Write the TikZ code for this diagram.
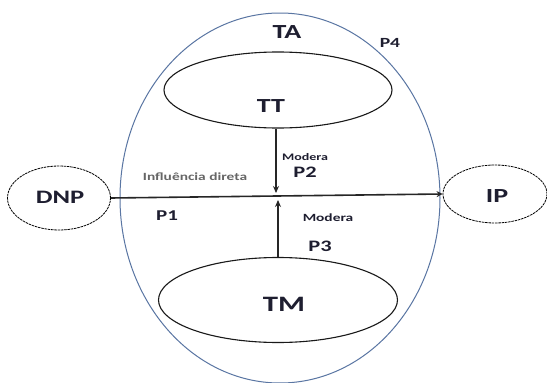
\documentclass[tikz,border=0pt]{standalone}
\usepackage{fontspec}
\setmainfont{Carlito}
\usetikzlibrary{shapes.geometric,arrows.meta}
\definecolor{outerblue}{HTML}{5A76A3}
\definecolor{txt}{HTML}{1E1E30}
\newcommand{\wdtxt}[1]{\scalebox{1.4}[1]{#1}}
\tikzset{
  lbl/.style={font=\bfseries\fontsize{#1}{#1}\selectfont, text=txt, inner sep=0pt},
  inner/.style={draw=black!90, line width=1.1pt, ellipse, inner sep=0pt},
  outer/.style={draw=black, line width=0.8pt, dash pattern=on 2.5pt off 0.8pt, ellipse, inner sep=0pt},
  conn/.style={draw=black!85, line width=1.2pt, -{Stealth[length=7pt,width=6pt]}}
}
\begin{document}
\begin{tikzpicture}[x=1pt,y=-1pt]
\useasboundingbox (0,0) rectangle (547,383);
\fill[white] (0,0) rectangle (547,383);
% outer TA ellipse
\node[draw=outerblue, line width=1pt, ellipse, minimum width=320, minimum height=370, inner sep=0pt] (TA) at (280,198) {};
\node[inner, minimum width=228, minimum height=76] (TT) at (278,90) {};
\node[inner, minimum width=239, minimum height=85] (TM) at (278,300) {};
\node[outer, minimum width=103, minimum height=64] (DNP) at (59,198) {};
\node[outer, minimum width=104, minimum height=58] (IP) at (495,194) {};
% texts
\node[lbl=20] (tTT) at (271,106) {\wdtxt{TT}};
\node[lbl=22] (tTM) at (284,304) {\wdtxt{TM}};
\node[lbl=19] (tDNP) at (60,197) {\wdtxt{DNP}};
\node[lbl=20] (tIP) at (497,196) {\wdtxt{IP}};
\node[lbl=20] (tTA) at (287,32) {\wdtxt{TA}};
\node[lbl=14] (tP4) at (390,43) {\wdtxt{P4}};
\node[lbl=10] (tM1) at (305,157) {\wdtxt{Modera}};
\node[lbl=16] (tP2) at (305,172) {\wdtxt{P2}};
\node[font=\bfseries\fontsize{11}{11}\selectfont, text=black!60, inner sep=0pt] (tInf) at (195,177) {\wdtxt{Influência direta}};
\node[lbl=15] (tP1) at (167,216) {\wdtxt{P1}};
\node[lbl=11] (tM2) at (328,218) {\wdtxt{Modera}};
\node[lbl=16] (tP3) at (320,246) {\wdtxt{P3}};
% connectors
\coordinate (j1) at (276,193);
\coordinate (j2) at (278,200);
\draw[conn, line width=1.6pt, -{Stealth[length=6pt,width=6pt]}] (DNP.east) -- (IP.west);
\draw[conn] (TT.south -| j1) -- (j1);
\draw[conn] (TM.north -| j2) -- (j2);
\end{tikzpicture}
\end{document}
